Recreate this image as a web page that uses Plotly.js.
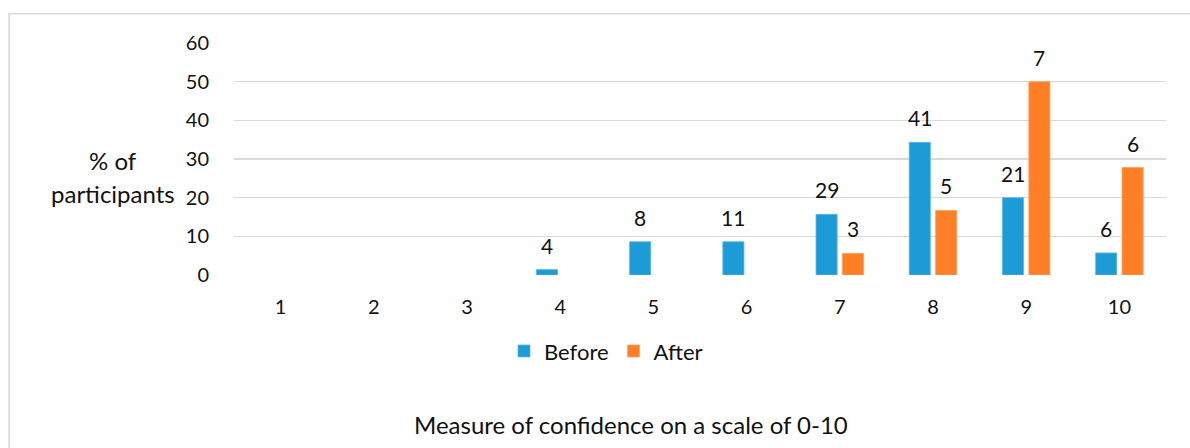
<!DOCTYPE html>
<html>
<head>
<meta charset="utf-8">
<script src="https://cdn.plot.ly/plotly-3.0.1.min.js"></script>
<style>html,body{margin:0;padding:0;background:#fff;}#chart{width:1190px;height:448px;}</style>
</head>
<body>
<div id="chart"></div>
<script>
// Data
var categories = ['1','2','3','4','5','6','7','8','9','10'];
var beforeValues = [null, null, null, 1.4, 8.6, 8.6, 15.7, 34.3, 20.0, 5.7];
var afterValues  = [null, null, null, null, null, null, 5.6, 16.7, 50.0, 27.8];
var beforeLabels = ['', '', '', '4', '8', '11', '29', '41', '21', '6'];
var afterLabels  = ['', '', '', '', '', '', '3', '5', '7', '6'];
var yTicks = [0, 10, 20, 30, 40, 50, 60];

var FONT = 'Lato, "Open Sans", sans-serif';
var BLUE = '#1c9bd7';
var ORANGE = '#ff7f27';
var L = 234, R = 24, T = 42.5, B = 172.5, W = 1190, H = 448;
var plotW = W - L - R, plotH = H - T - B;
function px(p){ return (p - L) / plotW; }
function py(p){ return (H - B - p) / plotH; }

var traces = [
  {type:'bar', name:'Before', x:categories, y:beforeValues,
   marker:{color:BLUE, line:{color:'#5bb9e6', width:0.8}}, hoverinfo:'none'},
  {type:'bar', name:'After', x:categories, y:afterValues,
   marker:{color:ORANGE, line:{color:'#ffa060', width:0.8}}, hoverinfo:'none'}
];

var annotations = [];
var slot = plotW / categories.length * (1 - 0.433) / 2;
function addLabels(vals, labels, shift){
  for (var i = 0; i < categories.length; i++){
    if (labels[i] === '' || vals[i] == null) continue;
    annotations.push({x:i, y:vals[i], xref:'x', yref:'y', text:labels[i],
      showarrow:false, xshift:shift, yanchor:'bottom', yshift:10,
      font:{family:FONT, size:21, color:'#111'}});
  }
}
addLabels(beforeValues, beforeLabels, -slot/2);
addLabels(afterValues, afterLabels, slot/2);

annotations.push({xref:'paper', yref:'paper', x:px(113), y:py(161), text:'% of', showarrow:false,
  xanchor:'center', yanchor:'middle', font:{family:FONT, size:24, color:'#111'}});
annotations.push({xref:'paper', yref:'paper', x:px(113), y:py(194), text:'participants', showarrow:false,
  xanchor:'center', yanchor:'middle', font:{family:FONT, size:24, color:'#111'}});
annotations.push({xref:'paper', yref:'paper', x:px(630.5), y:py(426), text:'Measure of confidence on a scale of 0-10', showarrow:false,
  xanchor:'center', yanchor:'middle', font:{family:FONT, size:24, color:'#111'}});

var layout = {
  width:W, height:H,
  margin:{l:L, r:R, t:T, b:B, pad:0},
  paper_bgcolor:'#fff', plot_bgcolor:'#fff',
  barmode:'group', bargap:0.433, bargroupgap:0.2,
  font:{family:FONT, size:21, color:'#111'},
  xaxis:{type:'category', range:[-0.5, 9.5], tickvals:categories, ticktext:categories, showgrid:false, zeroline:false,
    showline:false, ticks:'outside', ticklen:14, tickcolor:'rgba(0,0,0,0)',
    tickfont:{family:FONT, size:20, color:'#111'}, fixedrange:true},
  yaxis:{range:[0,60], tickvals:yTicks, showgrid:true, gridcolor:'#d9d9d9', gridwidth:1.5,
    zeroline:false, showline:false, ticks:'outside', ticklen:20, tickcolor:'rgba(0,0,0,0)',
    tickfont:{family:FONT, size:20, color:'#111'}, fixedrange:true},
  showlegend:true,
  legend:{orientation:'h', x:px(606), y:py(352), xanchor:'center', yanchor:'middle',
    font:{family:FONT, size:22, color:'#111'}, itemwidth:30, traceorder:'normal'},
  annotations:annotations,
  shapes:[{type:'rect', xref:'paper', yref:'paper', x0:px(9), x1:px(1200), y0:py(13), y1:py(470),
    line:{color:'#d9d9d9', width:1.5}, fillcolor:'rgba(0,0,0,0)', layer:'below'}]
};

Plotly.newPlot('chart', traces, layout, {displayModeBar:false, staticPlot:true});
</script>
</body>
</html>
